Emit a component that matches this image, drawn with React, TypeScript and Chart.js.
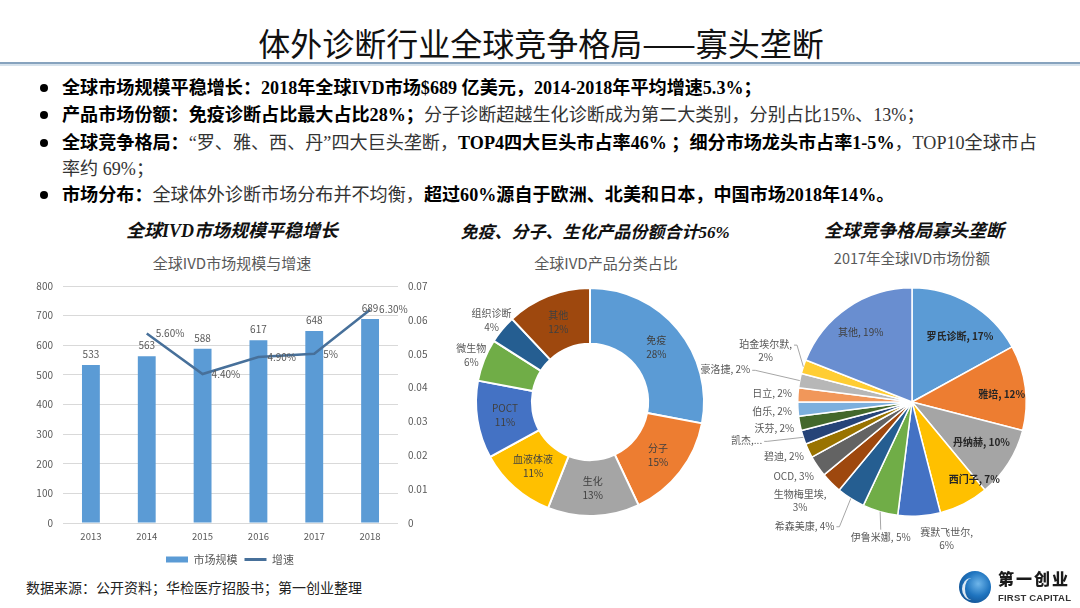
import React, { useEffect, useRef } from 'react';
import { Chart, registerables } from 'chart.js';

Chart.register(...registerables);

// ---------- data ----------
const years = ['2013', '2014', '2015', '2016', '2017', '2018'];
const marketSize = [533, 563, 588, 617, 648, 689];
const growthRate = [null, 0.056, 0.044, 0.049, 0.05, 0.063];
const growthLabels = ['', '5.60%', '4.40%', '4.90%', '5%', '6.30%'];
const sizeAxisMax = 800;
const sizeAxisStep = 100;
const rateAxisMax = 0.07;
const rateAxisStep = 0.01;

const productNames = ['免疫', '分子', '生化', '血液体液', 'POCT', '微生物', '组织诊断', '其他'];
const productShares = [28, 15, 13, 11, 11, 6, 4, 12];

const companyNames = ['罗氏诊断', '雅培', '丹纳赫', '西门子', '赛默飞世尔', '伊鲁米娜', '希森美康', '生物梅里埃', 'OCD', '碧迪', '凯杰', '沃芬', '伯乐', '日立', '豪洛捷', '珀金埃尔默', '其他'];
const companyShares = [17, 12, 10, 7, 6, 5, 4, 3, 3, 2, 2, 2, 2, 2, 2, 2, 19];

// ---------- styles ----------
const SANS = '"Noto Sans CJK SC", "Noto Sans", sans-serif';
const SERIF = '"Liberation Serif", "Noto Sans CJK SC", serif';
const BAR_COLOR = '#5B9BD5';
const LINE_COLOR = '#47709A';
const AXIS_TEXT = '#595959';

const productColors = ['#5B9BD5', '#ED7D31', '#A5A5A5', '#FFC000', '#4472C4', '#70AD47', '#255E91', '#9E480E'];
const productLabelStyle = [
  { out: false }, { out: false }, { out: false }, { out: false }, { out: false },
  { out: true }, { out: true }, { out: false },
];

const companyColors = ['#5B9BD5', '#ED7D31', '#A5A5A5', '#FFC000', '#4472C4', '#70AD47', '#255E91', '#9E480E', '#636363', '#997300', '#264478', '#43682B', '#7CAFDD', '#F1975A', '#B7B7B7', '#FFCD33', '#698ED0'];
// label placement styles (radius factor, nudge, weight, wrap, leader)
const companyLabelStyle = [
  { r: 0.72, dx: 6, dy: 5, bold: true },
  { r: 0.72, dx: 8, dy: 3, bold: true },
  { r: 0.72, dx: 0, dy: -4, bold: true },
  { r: 0.72, dx: 25, dy: 4, bold: true },
  { r: 1.2, dx: 26, dy: 0, wrap: true },
  { r: 1.2, dx: 7, dy: 4, leader: 'top' },
  { r: 1.2, dx: -34, dy: 8, leader: 'right' },
  { r: 1.2, dx: -15, dy: 2, wrap: true },
  { r: 1.2, dx: -5, dy: -3 },
  { r: 1.2, dx: -4, dy: -4 },
  { r: 1.2, dx: -35, dy: -4, leader: 'right', text: '凯杰,...' },
  { r: 1.2, dx: -3, dy: 1 },
  { r: 1.2, dx: -3, dy: 1 },
  { r: 1.2, dx: -3, dy: 0 },
  { r: 1.2, dx: -52, dy: -7, leader: 'right' },
  { r: 1.2, dx: -16, dy: -9, wrap: true, leader: 'right' },
  { r: 0.72, dx: -5, dy: -2, inside: true },
];

function ComboChart() {
  const ref = useRef<HTMLCanvasElement>(null);
  useEffect(() => {
    const labelPlugin = {
      id: 'comboLabels',
      afterDatasetsDraw(chart: any) {
        const ctx = chart.ctx;
        ctx.save();
        ctx.font = `10px ${SANS}`;
        ctx.fillStyle = AXIS_TEXT;
        ctx.textBaseline = 'middle';
        ctx.textAlign = 'center';
        chart.getDatasetMeta(1).data.forEach((el: any, i: number) => {
          ctx.fillText(String(marketSize[i]), el.x, el.y - 11);
        });
        ctx.textAlign = 'left';
        chart.getDatasetMeta(0).data.forEach((el: any, i: number) => {
          if (growthRate[i] == null) return;
          ctx.fillText(growthLabels[i], el.x + 9, el.y);
        });
        ctx.restore();
      },
    };
    const chart = new Chart(ref.current!, {
      type: 'bar',
      data: {
        labels: years,
        datasets: [
          {
            type: 'line',
            label: '增速',
            data: growthRate as any,
            yAxisID: 'y1',
            borderColor: LINE_COLOR,
            backgroundColor: LINE_COLOR,
            borderWidth: 2.5,
            pointRadius: 0,
            tension: 0,
            order: 0,
          } as any,
          {
            type: 'bar',
            label: '市场规模',
            data: marketSize,
            yAxisID: 'y',
            backgroundColor: BAR_COLOR,
            categoryPercentage: 1,
            barPercentage: 0.32,
            order: 1,
          },
        ],
      },
      options: {
        animation: false,
        responsive: false,
        maintainAspectRatio: false,
        layout: { padding: { top: 16, left: 0, right: 0, bottom: 0 } },
        plugins: {
          tooltip: { enabled: false },
          legend: {
            position: 'bottom',
            labels: {
              usePointStyle: true,
              pointStyleWidth: 22,
              boxHeight: 6,
              padding: 7,
              color: AXIS_TEXT,
              font: { size: 11, family: SANS },
              generateLabels: (c: any) => {
                const items = (Chart.defaults.plugins.legend.labels as any).generateLabels(c);
                items.forEach((it: any) => {
                  if (it.datasetIndex === 1) {
                    it.pointStyle = 'rect';
                    it.lineWidth = 0;
                  } else {
                    it.pointStyle = 'line';
                    it.lineWidth = 3;
                    it.strokeStyle = LINE_COLOR;
                  }
                });
                return items.sort((a: any, b: any) => b.datasetIndex - a.datasetIndex);
              },
            },
          },
        },
        scales: {
          x: {
            grid: { display: false, drawTicks: false },
            border: { display: false },
            ticks: { padding: 8, color: AXIS_TEXT, font: { size: 9.5, family: SANS } },
            afterFit: (s: any) => { s.height = 24; },
          },
          y: {
            position: 'left',
            min: 0,
            max: sizeAxisMax,
            ticks: { stepSize: sizeAxisStep, padding: 10, color: AXIS_TEXT, font: { size: 10, family: SANS } },
            grid: { color: '#D9D9D9', drawTicks: false },
            border: { display: false },
            afterFit: (s: any) => { s.width = 43; },
          },
          y1: {
            position: 'right',
            min: 0,
            max: rateAxisMax,
            ticks: {
              stepSize: rateAxisStep,
              padding: 10,
              color: AXIS_TEXT,
              font: { size: 10, family: SANS },
              callback: (v: any) => String(Number(Number(v).toFixed(2))),
            },
            grid: { display: false, drawTicks: false },
            border: { display: false },
            afterFit: (s: any) => { s.width = 42; },
          },
        },
      } as any,
      plugins: [labelPlugin],
    });
    return () => chart.destroy();
  }, []);
  return <canvas ref={ref} width={420} height={305} style={{ position: 'absolute', left: 20, top: 270, width: 420, height: 305 }} />;
}

function DonutChart() {
  const ref = useRef<HTMLCanvasElement>(null);
  useEffect(() => {
    const labelPlugin = {
      id: 'donutLabels',
      afterDatasetsDraw(chart: any) {
        const ctx = chart.ctx;
        ctx.save();
        ctx.font = `10px ${SANS}`;
        ctx.textAlign = 'center';
        ctx.textBaseline = 'middle';
        chart.getDatasetMeta(0).data.forEach((arc: any, i: number) => {
          const p = arc.getProps(['x', 'y', 'startAngle', 'endAngle', 'innerRadius', 'outerRadius'], true);
          const mid = (p.startAngle + p.endAngle) / 2;
          const st = productLabelStyle[i];
          const r = st.out ? p.outerRadius * 1.12 : (p.innerRadius + p.outerRadius) / 2;
          const cx = p.x + Math.cos(mid) * r;
          const cy = p.y + Math.sin(mid) * r;
          ctx.fillStyle = st.out ? '#595959' : '#404040';
          ctx.fillText(productNames[i], cx, cy - 7);
          ctx.fillText(productShares[i] + '%', cx, cy + 7);
        });
        ctx.restore();
      },
    };
    const chart = new Chart(ref.current!, {
      type: 'doughnut',
      data: {
        labels: productNames,
        datasets: [{ data: productShares, backgroundColor: productColors, borderColor: '#ffffff', borderWidth: 2 }],
      },
      options: {
        animation: false,
        responsive: false,
        maintainAspectRatio: false,
        cutout: '51%',
        layout: { padding: { left: 45, right: 45, top: 17, bottom: 33 } },
        plugins: { legend: { display: false }, tooltip: { enabled: false } },
      } as any,
      plugins: [labelPlugin],
    });
    return () => chart.destroy();
  }, []);
  return <canvas ref={ref} width={320} height={280} style={{ position: 'absolute', left: 430, top: 270, width: 320, height: 280 }} />;
}

function PieChart() {
  const ref = useRef<HTMLCanvasElement>(null);
  useEffect(() => {
    const labelPlugin = {
      id: 'pieLabels',
      afterDatasetsDraw(chart: any) {
        const ctx = chart.ctx;
        ctx.save();
        ctx.textBaseline = 'middle';
        ctx.textAlign = 'center';
        chart.getDatasetMeta(0).data.forEach((arc: any, i: number) => {
          const p = arc.getProps(['x', 'y', 'startAngle', 'endAngle', 'outerRadius'], true);
          const mid = (p.startAngle + p.endAngle) / 2;
          const st: any = companyLabelStyle[i];
          const R = p.outerRadius;
          const cx = p.x + Math.cos(mid) * R * st.r + st.dx;
          const cy = p.y + Math.sin(mid) * R * st.r + st.dy;
          const inside = st.r < 1;
          ctx.font = `${st.bold ? 'bold ' : ''}10px ${SANS}`;
          ctx.fillStyle = st.bold ? '#262626' : inside ? '#404040' : '#595959';
          const lines = st.text ? [st.text] : st.wrap ? [companyNames[i] + ',', companyShares[i] + '%'] : [companyNames[i] + ', ' + companyShares[i] + '%'];
          const lh = 13;
          const y0 = cy - ((lines.length - 1) * lh) / 2;
          lines.forEach((t, k) => {
            ctx.fillText(t, cx, y0 + k * lh);
          });
          if (st.leader) {
            const ex = p.x + Math.cos(mid) * R;
            const ey = p.y + Math.sin(mid) * R;
            ctx.strokeStyle = '#A6A6A6';
            ctx.lineWidth = 1;
            ctx.beginPath();
            if (st.leader === 'top') {
              ctx.moveTo(cx, cy - 8);
              ctx.lineTo(ex, ey);
            } else {
              const w = ctx.measureText(lines[0]).width;
              const sx = cx + w / 2 + 2;
              ctx.moveTo(sx, y0 + 1);
              ctx.lineTo(sx + 3, y0 + 1);
              ctx.lineTo(ex, ey);
            }
            ctx.stroke();
          }
        });
        ctx.restore();
      },
    };
    const chart = new Chart(ref.current!, {
      type: 'pie',
      data: {
        labels: companyNames,
        datasets: [{ data: companyShares, backgroundColor: companyColors, borderColor: '#ffffff', borderWidth: 1.5 }],
      },
      options: {
        animation: false,
        responsive: false,
        maintainAspectRatio: false,
        layout: { padding: { left: 117, right: 53, top: 17, bottom: 53 } },
        plugins: { legend: { display: false }, tooltip: { enabled: false } },
      } as any,
      plugins: [labelPlugin],
    });
    return () => chart.destroy();
  }, []);
  return <canvas ref={ref} width={400} height={300} style={{ position: 'absolute', left: 680, top: 270, width: 400, height: 300 }} />;
}

const abs = (left: number, top: number, extra: any = {}) => ({ position: 'absolute' as const, left, top, whiteSpace: 'nowrap' as const, ...extra });

function Bullet({ top }: { top: number }) {
  return <div style={{ position: 'absolute', left: 40, top: top - 4, width: 8, height: 8, borderRadius: 4, background: '#000' }} />;
}

const B = ({ children }: any) => <span style={{ fontWeight: 700, color: '#000' }}>{children}</span>;
const N = ({ children }: any) => <span style={{ fontWeight: 400, color: '#333' }}>{children}</span>;

export default function App() {
  const rowStyle = (y: number) => abs(62, y - 13, { fontFamily: SERIF, fontSize: 18.1, lineHeight: '26px', height: 26 });
  const centered = (cx: number, cy: number, size: number, extra: any = {}) =>
    abs(cx - 500, cy - size * 0.7, { width: 1000, textAlign: 'center', fontSize: size, lineHeight: `${size * 1.4}px`, ...extra });
  return (
    <div style={{ position: 'absolute', left: 0, top: 0, width: 1080, height: 608, background: '#fff', overflow: 'hidden', fontFamily: SANS }}>
      <div style={centered(541, 42, 32, { fontFamily: SANS, color: '#111' })}>体外诊断行业全球竞争格局——寡头垄断</div>
      <div style={{ position: 'absolute', left: 0, top: 62, width: 1080, height: 2, background: '#87A3BE' }} />
      <div style={{ position: 'absolute', left: 0, top: 64, width: 1080, height: 2, background: '#D6E2EC' }} />

      <Bullet top={88} />
      <div style={rowStyle(88)}><B>全球市场规模平稳增长：2018年全球IVD市场$689 亿美元，2014-2018年平均增速5.3%；</B></div>
      <Bullet top={115} />
      <div style={rowStyle(115)}><B>产品市场份额：免疫诊断占比最大占比28%；</B><N>分子诊断超越生化诊断成为第二大类别，分别占比15%、13%；</N></div>
      <Bullet top={143} />
      <div style={rowStyle(143)}><B>全球竞争格局：</B><N>“罗、雅、西、丹”四大巨头垄断，</N><B>TOP4四大巨头市占率46% ；细分市场龙头市占率1-5%</B><N>，TOP10全球市占</N></div>
      <div style={rowStyle(169)}><N>率约 69%；</N></div>
      <Bullet top={195} />
      <div style={rowStyle(195)}><B>市场分布：</B><N>全球体外诊断市场分布并不均衡，</N><B>超过60%源自于欧洲、北美和日本，中国市场2018年14%。</B></div>

      <div style={centered(232, 232, 18, { fontFamily: SERIF, fontStyle: 'italic', fontWeight: 700, color: '#111' })}>全球IVD市场规模平稳增长</div>
      <div style={centered(232, 262, 15, { color: '#595959' })}>全球IVD市场规模与增速</div>
      <div style={centered(595, 233, 17, { fontFamily: SERIF, fontStyle: 'italic', fontWeight: 700, color: '#111' })}>免疫、分子、生化产品份额合计56%</div>
      <div style={centered(606, 262, 15, { color: '#595959' })}>全球IVD产品分类占比</div>
      <div style={centered(914, 232, 18, { fontFamily: SERIF, fontStyle: 'italic', fontWeight: 700, color: '#111' })}>全球竞争格局寡头垄断</div>
      <div style={centered(912, 258, 14.5, { color: '#595959' })}>2017年全球IVD市场份额</div>

      <ComboChart />
      <DonutChart />
      <PieChart />

      <div style={abs(26, 580, { fontFamily: SERIF, fontSize: 14, color: '#222', lineHeight: '18px' })}>数据来源：公开资料；华检医疗招股书；第一创业整理</div>

      <div style={{ position: 'absolute', left: 959, top: 571, width: 32, height: 32, borderRadius: 16, background: 'radial-gradient(circle at 60% 40%, #6FB6EA 0%, #1F74BF 45%, #0B3C75 100%)' }} />
      <div style={{ position: 'absolute', left: 962, top: 578, width: 16, height: 22, borderRadius: '50%', borderLeft: '3px solid #ffffff', opacity: 0.85 }} />
      <div style={abs(998, 570, { fontSize: 16, fontWeight: 900, color: '#1a1a1a', letterSpacing: 2, lineHeight: '20px', fontFamily: SERIF })}>第一创业</div>
      <div style={abs(998, 592, { fontSize: 9.5, fontWeight: 700, color: '#333', letterSpacing: 0.2, lineHeight: '12px', fontFamily: '"Liberation Sans", sans-serif' })}>FIRST CAPITAL</div>
    </div>
  );
}
